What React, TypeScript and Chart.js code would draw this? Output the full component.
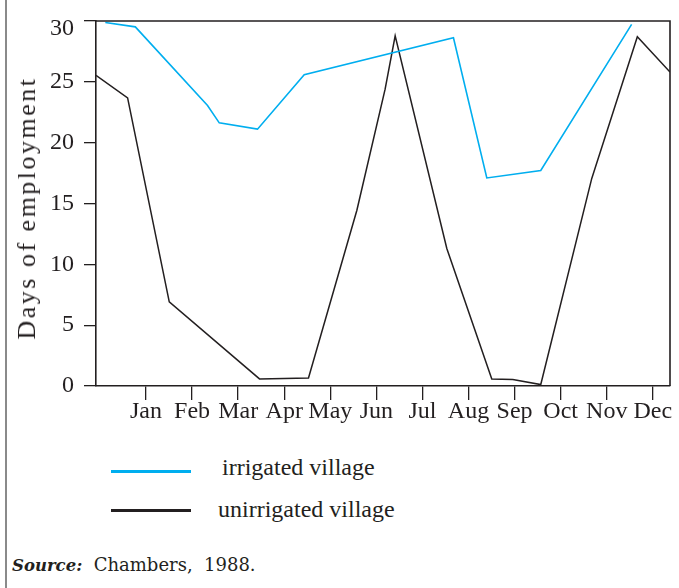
import React, { useEffect, useRef } from "react";
import { Chart, registerables } from "chart.js";

Chart.register(...registerables);

const months = ["Jan", "Feb", "Mar", "Apr", "May", "Jun", "Jul", "Aug", "Sep", "Oct", "Nov", "Dec"];
const monthTicks = [1, 2, 3, 4, 5, 6, 7, 8, 9, 10, 11, 12];
const yTickValues = [0, 5, 10, 15, 20, 25, 30];

// x positions in months (Jan = 1), y = days of employment
const irrigatedX = [0.117, 0.768, 2.336, 2.59, 3.42, 4.434, 7.673, 8.397, 9.568, 11.54];
const irrigatedY = [29.88, 29.52, 23.06, 21.63, 21.11, 25.58, 28.62, 17.1, 17.71, 29.72];

const unirrigatedX = [-0.085, 0.601, 1.505, 3.464, 4.527, 5.577, 6.19, 6.408, 7.529, 8.505, 8.961, 9.568, 10.675, 11.664, 12.373];
const unirrigatedY = [25.53, 23.68, 6.91, 0.58, 0.66, 14.45, 24.4, 28.78, 11.3, 0.58, 0.53, 0.12, 17.06, 28.7, 25.8];

const xMin = -0.085;
const xMax = 12.373;
const yMin = 0;
const yMax = 30;

const BLUE = "#00aeef";
const INK = "#231f20";
const SERIF = "'Liberation Serif', 'Times New Roman', serif";

export default function App() {
  const ref = useRef<HTMLCanvasElement>(null);

  useEffect(() => {
    const canvas = ref.current;
    if (!canvas) return;
    const frame = {
      id: "frame",
      afterDraw(chart: any) {
        const { ctx, chartArea } = chart;
        const { left, right, top, bottom } = chartArea;
        ctx.save();
        ctx.strokeStyle = INK;
        ctx.lineWidth = 1.6;
        ctx.beginPath();
        ctx.moveTo(left, top);
        ctx.lineTo(right, top);
        ctx.lineTo(right, bottom);
        ctx.stroke();
        ctx.restore();
      },
    };
    const chart = new Chart(canvas, {
      type: "line",
      data: {
        datasets: [
          {
            label: "irrigated village",
            data: irrigatedX.map((x, i) => ({ x, y: irrigatedY[i] })),
            borderColor: BLUE,
            backgroundColor: BLUE,
            borderWidth: 1.6,
            pointRadius: 0,
            tension: 0,
            fill: false,
          },
          {
            label: "unirrigated village",
            data: unirrigatedX.map((x, i) => ({ x, y: unirrigatedY[i] })),
            borderColor: INK,
            backgroundColor: INK,
            borderWidth: 1.5,
            pointRadius: 0,
            tension: 0,
            fill: false,
          },
        ],
      },
      options: {
        animation: false,
        responsive: false,
        layout: { padding: { left: 0, top: 21, right: 9, bottom: 4 } },
        plugins: {
          legend: { display: false },
          tooltip: { enabled: false },
        },
        scales: {
          x: {
            type: "linear",
            min: xMin,
            max: xMax,
            afterBuildTicks: (s: any) => {
              s.ticks = monthTicks.map((v) => ({ value: v }));
            },
            afterFit: (s: any) => {
              s.height = 50;
              s.paddingLeft = 0;
              s.paddingRight = 0;
            },
            ticks: {
              callback: (v: any) => months[Number(v) - 1] ?? "",
              font: { family: SERIF, size: 24, lineHeight: 1 },
              color: INK,
              padding: 0,
              maxRotation: 0,
              minRotation: 0,
              autoSkip: false,
            },
            grid: { drawOnChartArea: false, tickLength: 14, color: INK, lineWidth: 1.3 },
            border: { color: INK, width: 1.6 },
          },
          y: {
            type: "linear",
            min: yMin,
            max: yMax,
            afterBuildTicks: (s: any) => {
              s.ticks = yTickValues.map((v) => ({ value: v }));
            },
            afterFit: (s: any) => {
              s.width = 96;
              s.paddingTop = 0;
              s.paddingBottom = 0;
            },
            ticks: {
              // the top label sits just below the frame line, as in the original
              callback: (v: any) => (Number(v) === yMax ? ["", String(v)] : String(v)),
              font: (c: any) =>
                c.tick && c.tick.value === yMax
                  ? { family: SERIF, size: 24, lineHeight: 0.667 }
                  : { family: SERIF, size: 24, lineHeight: 1 },
              color: INK,
              padding: 10,
            },
            grid: { drawOnChartArea: false, tickLength: 12, color: INK, lineWidth: 1.3 },
            border: { color: INK, width: 1.6 },
          },
        },
      },
      plugins: [frame],
    } as any);
    return () => chart.destroy();
  }, []);

  const textBase: React.CSSProperties = {
    position: "absolute",
    color: INK,
    whiteSpace: "pre",
    margin: 0,
  };

  return (
    <div
      style={{
        position: "absolute",
        left: 0,
        top: 0,
        width: 679,
        height: 588,
        background: "#ffffff",
        overflow: "hidden",
      }}
    >
      <div style={{ position: "absolute", left: 5, top: 0, width: 2, height: 588, background: "#8a8a8a" }} />
      <canvas
        ref={ref}
        width={679}
        height={440}
        style={{ position: "absolute", left: 0, top: 0, width: 679, height: 440 }}
      />
      <div
        style={{
          ...textBase,
          left: 27,
          top: 208,
          fontFamily: SERIF,
          fontSize: 26,
          lineHeight: "26px",
          letterSpacing: "2.5px",
          transform: "translate(-50%, -50%) rotate(-90deg)",
        }}
      >
        Days of employment
      </div>
      <div style={{ position: "absolute", left: 111, top: 470, width: 80, height: 3, background: BLUE }} />
      <div style={{ position: "absolute", left: 111, top: 509, width: 80, height: 3, background: INK }} />
      <div style={{ ...textBase, left: 222, top: 455, fontFamily: SERIF, fontSize: 24, lineHeight: "24px" }}>
        irrigated village
      </div>
      <div style={{ ...textBase, left: 218, top: 497, fontFamily: SERIF, fontSize: 24, lineHeight: "24px" }}>
        unirrigated village
      </div>
      <div
        style={{
          ...textBase,
          left: 12,
          top: 556,
          fontFamily: "'DejaVu Serif', serif",
          fontSize: 18,
          lineHeight: "18px",
        }}
      >
        <span style={{ fontWeight: "bold", fontStyle: "italic", fontSize: 16.5 }}>Source:</span>
        {"  Chambers,  1988."}
      </div>
    </div>
  );
}
